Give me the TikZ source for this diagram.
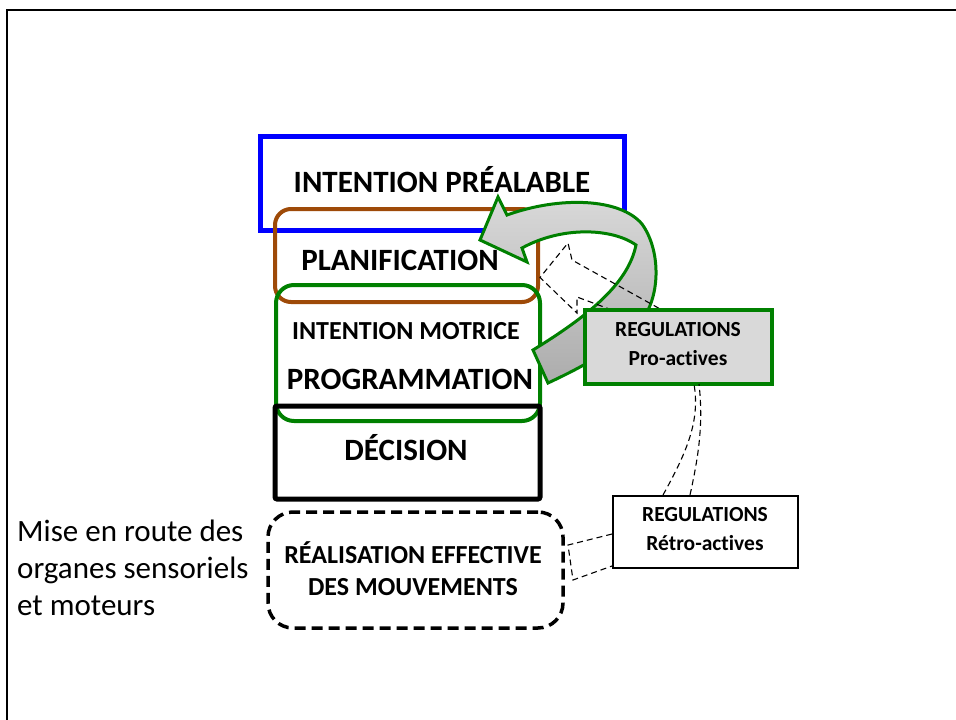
\documentclass[tikz,border=0pt]{standalone}
\usepackage{fontspec}
\setmainfont{Carlito}[Ligatures=NoCommon]
\usetikzlibrary{positioning}
\definecolor{bleu}{RGB}{0,0,255}
\definecolor{brun}{RGB}{158,74,8}
\definecolor{vert}{RGB}{0,128,0}
\definecolor{grisclair}{RGB}{217,217,217}

\tikzset{
  niveau/.style={rectangle,inner sep=0pt},
  grand/.style={font=\fontsize{31}{36}\selectfont\bfseries},
  moyen/.style={font=\fontsize{26}{32}\selectfont\bfseries,align=center},
  petit/.style={font=\fontsize{21.5}{29}\selectfont\bfseries,align=center},
  pointille/.style={dash pattern=on 6pt off 4pt,line width=1.1pt}
}

\begin{document}
\begin{tikzpicture}[x=1pt,y=-1pt]
  \useasboundingbox (0,0) rectangle (956,720);
  % cadre
  \draw[line width=2.5pt] (956,10) -- (7,10) -- (7,720);

  % les niveaux
  \node[niveau,draw=bleu,line width=5pt,minimum width=364pt,minimum height=94pt] (prealable) at (442,183) {};
  \node[niveau,draw=brun,line width=4pt,rounded corners=16pt,minimum width=263pt,minimum height=93pt] (planif) at (406.5,255.5) {};
  \node[niveau,draw=vert,line width=4pt,rounded corners=18pt,minimum width=264pt,minimum height=136pt] (motrice) at (408,353) {};
  \node[niveau,draw=black,line width=5pt,rounded corners=2pt,minimum width=265pt,minimum height=93pt] (decision) at (407.5,452.5) {};
  \node[niveau,draw=black,line width=3.5pt,dash pattern=on 11pt off 6pt,rounded corners=25pt,minimum width=295pt,minimum height=116pt] (realisation) at (415.5,570) {};

  % fleche courbe
  \draw[draw=vert,line width=3pt,top color=grisclair,bottom color=gray!65]
    (533,350) .. controls (585,318) and (628,285) .. (636,245)
    .. controls (612,228) and (562,226) .. (522,248)
    -- (527,262) -- (480,240) -- (498,197) -- (507,215)
    .. controls (560,196) and (620,198) .. (642,224)
    .. controls (662,252) and (660,300) .. (640,322)
    .. controls (615,350) and (580,368) .. (548,383) -- cycle;

  % regulations
  \draw[pointille] ([xshift=27pt]585,310) -- (577,297) -- (577,313) -- ([yshift=-22pt]planif.east)
    -- (568,243) -- (572,260) -- (662,310);
  \node[niveau,draw=vert,fill=grisclair,line width=3.5pt,minimum width=187pt,minimum height=74pt] (proactives) at (678.5,347) {};
  \node[niveau,draw=black,fill=white,line width=2pt,minimum width=185pt,minimum height=72pt] (retroactives) at (705.5,532) {};
  \draw[pointille] (663,495) .. controls (688,450) and (700,420) .. (694,384);
  \draw[pointille] (690,495) .. controls (700,450) and (703,420) .. (699,384);
  \draw[pointille] ([yshift=-2pt]retroactives.west) -- (568,545) -- (573,580) -- ([yshift=-34pt]retroactives.west);

  % textes
  \node[grand] (t-prealable) at (442,180) {INTENTION PRÉALABLE};
  \node[grand] (t-planif) at (400,260) {PLANIFICATION};
  \node[moyen] (t-motrice) at (406,331) {INTENTION MOTRICE};
  \node[grand] (t-prog) at (410,379) {PROGRAMMATION};
  \node[grand] (t-decision) at (406,448) {DÉCISION};
  \node[moyen] (t-realisation) at (413,569) {RÉALISATION EFFECTIVE\\DES MOUVEMENTS};
  \node[petit] (t-pro) at (678,344) {REGULATIONS\\Pro-actives};
  \node[petit] (t-retro) at (705,529) {REGULATIONS\\Rétro-actives};
  \node[anchor=west,align=left,font=\fontsize{31}{37}\selectfont,inner sep=0pt] (organes) at (17,568)
    {Mise en route des\\organes sensoriels\\et moteurs};
\end{tikzpicture}
\end{document}
